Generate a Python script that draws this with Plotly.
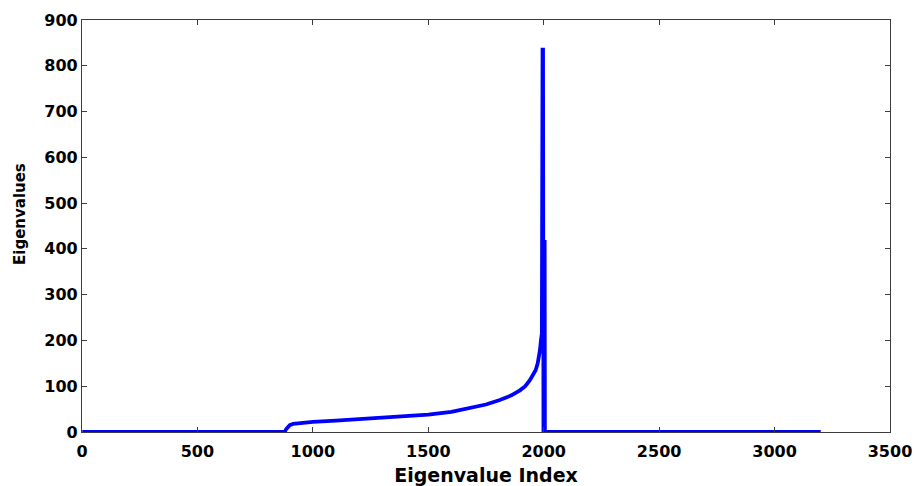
import plotly.graph_objects as go

# Sorted eigenvalue spectrum (index, value)
eig_index = [1, 878, 884, 890, 900, 915, 945, 1000, 1100, 1200, 1300, 1400, 1500,
             1600, 1680, 1750, 1810, 1860, 1897, 1920, 1940, 1955, 1965, 1974,
             1980, 1984, 1988, 1992, 1995, 1997, 1999, 2000, 2002, 2004, 2005,
             3200]
eig_value = [0, 0, 6, 10, 15, 18, 20, 22, 25, 28, 31, 35, 38,
             44, 52, 60, 70, 80, 91, 100, 113, 125, 135, 150,
             165, 180, 200, 215, 835, 835, 0, 0, 415, 415, 0,
             0]

x_ticks = [0, 500, 1000, 1500, 2000, 2500, 3000, 3500]
y_ticks = [0, 100, 200, 300, 400, 500, 600, 700, 800, 900]

font_family = "DejaVu Sans"

fig = go.Figure()
fig.add_trace(go.Scatter(
    x=eig_index, y=eig_value, mode="lines",
    line=dict(color="#0000FF", width=3.8),
    hoverinfo="skip", showlegend=False,
))

axis_common = dict(
    showgrid=False, zeroline=False, automargin=False,
    showline=True, linecolor="#3c3c3c", linewidth=1.2,
    mirror="ticks", ticks="inside", ticklen=5, tickwidth=1, tickcolor="#3c3c3c",
    tickfont=dict(family=font_family, size=16, color="black", weight="bold"),
)

fig.update_xaxes(
    range=[0, 3500], tickvals=x_ticks, ticktext=[str(v) for v in x_ticks],
    ticklabelstandoff=5,
    title=dict(text="Eigenvalue Index", standoff=10,
               font=dict(family=font_family, size=19, color="black", weight="bold")),
    **axis_common,
)
fig.update_yaxes(
    range=[0, 900], tickvals=y_ticks, ticktext=[str(v) for v in y_ticks],
    **axis_common,
)

# Vertical axis label placed just inside the left page edge
fig.add_annotation(
    text="Eigenvalues", textangle=-90,
    xref="paper", yref="paper", x=0, y=0.5,
    xanchor="center", yanchor="middle", xshift=-62, yshift=12,
    showarrow=False,
    font=dict(family=font_family, size=15, color="black", weight="bold"),
)

fig.update_layout(
    width=914, height=486,
    margin=dict(l=82, r=24, t=20, b=54),
    paper_bgcolor="white", plot_bgcolor="white",
)

fig.write_html("out.html")
